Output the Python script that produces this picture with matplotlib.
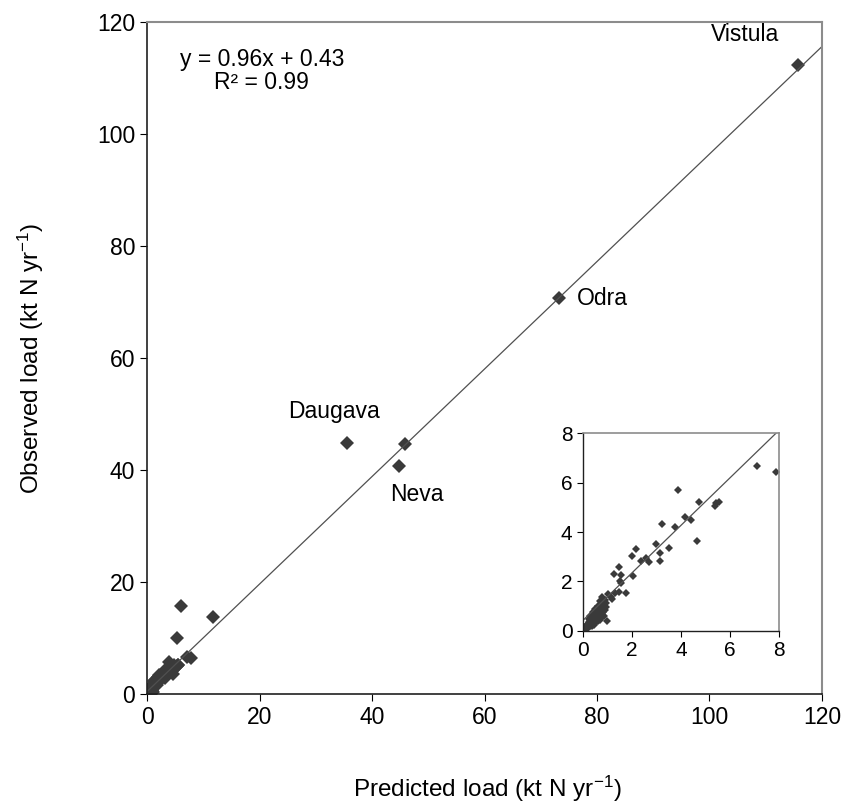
import matplotlib.pyplot as plt
import numpy as np

plt.rcParams['font.family'] = ['Liberation Sans', 'DejaVu Sans']
plt.rcParams['mathtext.fontset'] = 'custom'
plt.rcParams['mathtext.rm'] = 'Liberation Sans'
plt.rcParams['mathtext.it'] = 'Liberation Sans:italic'

# Large rivers (predicted, observed) in kt N / yr
big_pred = [115.7, 73.2, 35.6, 45.9, 44.8, 11.7, 5.97, 5.4]
big_obs = [112.3, 70.7, 44.8, 44.6, 40.7, 13.7, 15.8, 10.05]

# Small catchments (also shown in the inset)
small_pred = [7.1, 7.89, 3.88, 4.72, 5.44, 5.55, 5.37, 3.24, 4.18, 4.41, 3.74,
              4.65, 3.5, 2.97, 2.15, 2.01, 3.13, 3.13, 2.38, 2.59, 2.69, 1.46,
              1.27, 1.56, 2.04, 1.5, 1.56, 1.47, 1.74, 1.16, 1.02, 0.79, 0.98,
              1.2, 1.3, 0.05, 0.1, 0.12, 0.15, 0.18, 0.2, 0.22, 0.25, 0.28,
              0.3, 0.32, 0.35, 0.35, 0.38, 0.4, 0.42, 0.45, 0.45, 0.48, 0.5,
              0.52, 0.55, 0.55, 0.58, 0.6, 0.62, 0.65, 0.65, 0.68, 0.7, 0.72,
              0.75, 0.75, 0.78, 0.8, 0.82, 0.85, 0.88, 0.9, 0.92, 0.95, 0.6,
              0.5, 0.7, 0.4, 0.3, 0.85, 0.25]
small_obs = [6.68, 6.42, 5.68, 5.23, 5.16, 5.2, 5.07, 4.32, 4.59, 4.49, 4.22,
             3.65, 3.36, 3.51, 3.32, 3.04, 3.14, 2.84, 2.84, 2.93, 2.8, 2.59,
             2.32, 2.26, 2.22, 2.01, 1.92, 1.58, 1.54, 1.38, 1.51, 1.38, 0.39,
             1.3, 1.55, 0.08, 0.12, 0.2, 0.1, 0.25, 0.3, 0.15, 0.35, 0.22,
             0.45, 0.3, 0.5, 0.2, 0.4, 0.6, 0.3, 0.55, 0.25, 0.7, 0.45,
             0.35, 0.8, 0.6, 0.5, 0.4, 0.75, 0.9, 0.55, 0.65, 0.45, 0.85,
             1.0, 0.7, 0.55, 0.9, 0.75, 1.1, 0.85, 1.25, 0.95, 1.15, 1.0,
             0.9, 1.2, 0.75, 0.6, 0.6, 0.5]

labels = ["Vistula", "Odra", "Daugava", "Neva"]
slope, intercept = 0.96, 0.43

mk = '#3a3a3a'
fig = plt.figure(figsize=(8.41, 8.10), dpi=100)
ax = fig.add_axes([0.1748, 0.1432, 0.8026, 0.8296])

ax.plot(small_pred + big_pred, small_obs + big_obs, 'D', color=mk, ms=7, mew=0)
xl = np.array([0, 120])
ax.plot(xl, slope * xl + intercept, color='#505050', lw=0.9)

ax.set_xlim(0, 120)
ax.set_ylim(0, 120)
ax.set_xticks(range(0, 121, 20))
ax.set_yticks(range(0, 121, 20))
ax.tick_params(direction='out', length=5, labelsize=16.5, colors='black')
for s in ['top', 'right']:
    ax.spines[s].set_color('#8c8c8c')
    ax.spines[s].set_linewidth(1.5)
for s in ['left', 'bottom']:
    ax.spines[s].set_color('#202020')
    ax.spines[s].set_linewidth(1.2)

ax.set_xlabel(r"Predicted load (kt N yr$^{\mathregular{-1}}$)", fontsize=17.5)
ax.set_ylabel(r"Observed load (kt N yr$^{\mathregular{-1}}$)", fontsize=17.5)
ax.xaxis.set_label_coords(0.504, -0.118)
ax.yaxis.set_label_coords(-0.150, 0.5)

ax.text(20.4, 111.3, "y = 0.96x + 0.43\nR² = 0.99", ha='center', va='center',
        fontsize=16.5, linespacing=1.0)
ax.text(106.4, 117.8, labels[0], ha='center', va='center', fontsize=16.5)
ax.text(76.4, 70.7, labels[1], ha='left', va='center', fontsize=16.5)
ax.text(33.2, 50.4, labels[2], ha='center', va='center', fontsize=16.5)
ax.text(48.0, 35.7, labels[3], ha='center', va='center', fontsize=16.5)

# inset
ins = fig.add_axes([0.6932, 0.221, 0.2331, 0.2444])
ins.plot(small_pred, small_obs, 'D', color=mk, ms=3.8, mew=0)
xi = np.array([0, 8])
ins.plot(xi, slope * xi + intercept, color='#505050', lw=0.9)
ins.set_xlim(0, 8)
ins.set_ylim(0, 8)
ins.set_xticks(range(0, 9, 2))
ins.set_yticks(range(0, 9, 2))
ins.tick_params(direction='out', length=4, labelsize=15, colors='black')
for s in ['top', 'right']:
    ins.spines[s].set_color('#8c8c8c')
    ins.spines[s].set_linewidth(1.2)
for s in ['left', 'bottom']:
    ins.spines[s].set_color('#202020')
    ins.spines[s].set_linewidth(1.0)

fig.savefig('out.png', dpi=100)
